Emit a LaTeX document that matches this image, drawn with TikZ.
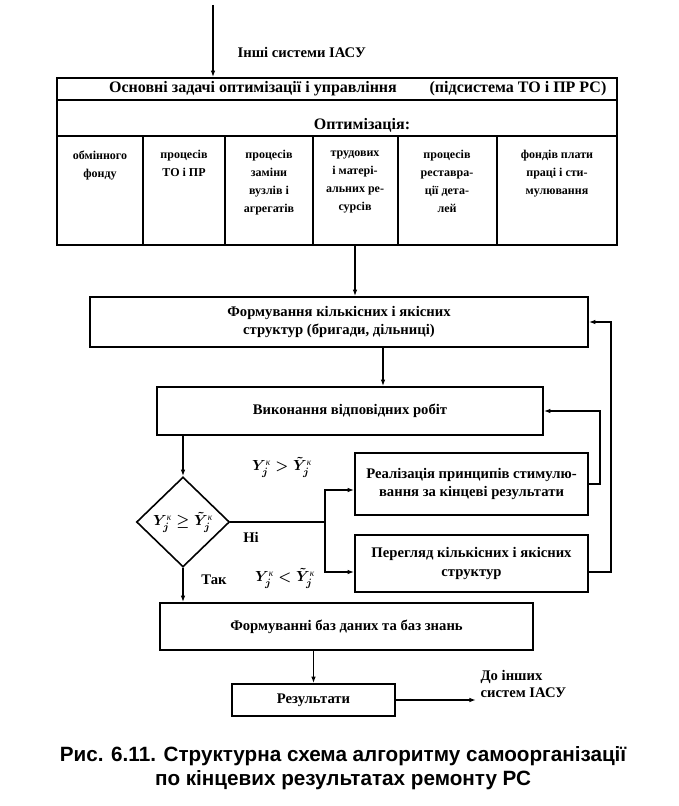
\documentclass[tikz,border=0pt]{standalone}
\usepackage{fontspec}
\setmainfont{Liberation Serif}
\newfontfamily\capfont{Liberation Sans}
\usetikzlibrary{arrows.meta,positioning,calc,shapes.geometric}
\newcommand{\Yk}{Y_j^{\mbox{\scriptsize\itshape к}}}
\newcommand{\Ytk}{\tilde{Y}_j^{\mbox{\scriptsize\itshape к}}}

\begin{document}
\begin{tikzpicture}[x=0.75pt,y=0.75pt,yscale=-1,xscale=1,
	blk/.style={draw, line width=1.2pt, align=center, inner sep=2pt, font=\bfseries\fontsize{11}{14}\selectfont},
	colt/.style={anchor=north, align=center, inner sep=1pt, font=\bfseries\fontsize{9}{13.5}\selectfont, execute at begin node=\strut},
	lbl/.style={inner sep=1pt, font=\bfseries\fontsize{11}{13}\selectfont},
	hdr/.style={inner sep=1pt, font=\bfseries\fontsize{12}{14}\selectfont},
	cond/.style={inner sep=1pt, font=\boldmath\fontsize{11}{13}\selectfont},
	arr/.style={line width=1.2pt, -{Latex[length=5pt,width=3.5pt]}},
	ln/.style={line width=1.2pt}]
	\useasboundingbox (0,0) rectangle (678,806);

	%Main tasks table
	\node[blk, minimum width=420pt, minimum height=125.25pt] (tasks) at (337,161.5) {};
	\draw[ln] ($(tasks.north west)+(0,23)$) -- ($(tasks.north east)+(0,23)$);
	\draw[ln] ($(tasks.north west)+(0,59)$) -- ($(tasks.north east)+(0,59)$);
	\foreach \cx in {143,225,313,398,497}
		\draw[ln] (\cx,137) -- (tasks.south -| \cx,0);
	% Text Node
	\node[hdr] (head1) at (253,89) {Основні задачі оптимізації і управління};
	\node[hdr] (head2) at (518,89) {(підсистема ТО і ПР РС)};
	\node[hdr] (optim) at (362,125) {Оптимізація:};
	% Columns
	\node[colt] (col1) at (100,149) {обмінного\\фонду};
	\node[colt] (col2) at (184,149) {процесів\\ТО і ПР};
	\node[colt] (col3) at (269,149) {процесів\\заміни\\вузлів і\\агрегатів};
	\node[colt] (col4) at (355,149) {трудових\\і матері-\\альних ре-\\сурсів};
	\node[colt] (col5) at (447,149) {процесів\\реставра-\\ції дета-\\лей};
	\node[colt] (col6) at (557,149) {фондів плати\\праці і сти-\\мулювання};

	%Input from other systems
	\coordinate (src) at (213,5);
	\draw[arr] (src) -- (src |- tasks.north);
	\node[lbl, anchor=west] (other) at (236,52) {Інші системи ІАСУ};

	%Blocks
	\node[blk, minimum width=373.5pt, minimum height=37.5pt] (form) at (339,322) {Формування кількісних і якісних\\структур (бригади, дільниці)};
	\node[blk, minimum width=289.5pt, minimum height=36pt] (exec) at (350,411) {Виконання відповідних робіт};
	\node[draw, diamond, line width=1.2pt, minimum width=69.75pt, minimum height=67.5pt, inner sep=0pt, cond] (dia) at (183,522) {$\Yk\geq\Ytk$};
	\node[blk, minimum width=174.75pt, minimum height=46.5pt] (stim) at (471.5,484) {Реалізація принципів стимулю-\\вання за кінцеві результати};
	\node[blk, minimum width=174.75pt, minimum height=42.75pt] (perg) at (471.5,563.5) {Перегляд кількісних і якісних\\структур};
	\node[blk, minimum width=279.75pt, minimum height=35.25pt] (db) at (346.5,626.5) {Формуванні баз даних та баз знань};
	\node[blk, minimum width=122.25pt, minimum height=24pt] (res) at (313.5,700) {Результати};

	%Connectors
	\coordinate (t1) at (355,0);
	\coordinate (f1) at (383,0);
	\draw[arr] (tasks.south -| t1) -- (form.north -| t1);
	\draw[arr] (form.south -| f1) -- (exec.north -| f1);
	\draw[arr] (exec.south -| dia.north) -- (dia.north);
	\coordinate (split) at (325,522);
	\coordinate (s1) at (0,490);
	\coordinate (p1) at (0,572);
	\draw[ln] (dia.east) -- (split);
	\draw[arr] (split) |- (stim.west |- s1);
	\draw[arr] (split) |- (perg.west |- p1);
	\coordinate (fb1) at (600,0);
	\coordinate (fb2) at (611,0);
	\draw[arr] (stim.east) -- (stim.east -| fb1) |- (exec.east);
	\draw[arr] (perg.east |- p1) -- (fb2 |- p1) |- (form.east);
	\draw[arr] (dia.south) -- (dia.south |- db.north);
	\draw[arr] (res.north |- db.south) -- (res.north);
	\coordinate (out) at (476,0);
	\draw[arr] (res.east) -- (res.east -| out);

	% Text Node
	\node[cond] (gt) at (282,467) {$\Yk>\Ytk$};
	\node[cond] (lt) at (285,578) {$\Yk<\Ytk$};
	\node[lbl] (no) at (251,537) {Ні};
	\node[lbl] (yes) at (214,580) {Так};
	\node[lbl, anchor=west, align=left] (outlbl) at (479,684) {До інших\\систем ІАСУ};

	%Caption
	\node[align=center, font=\capfont\bfseries\fontsize{15.5}{18}\selectfont] (cap) at (343,768) {Рис. 6.11. Структурна схема алгоритму самоорганізації\\по кінцевих результатах ремонту РС};
\end{tikzpicture}
\end{document}
